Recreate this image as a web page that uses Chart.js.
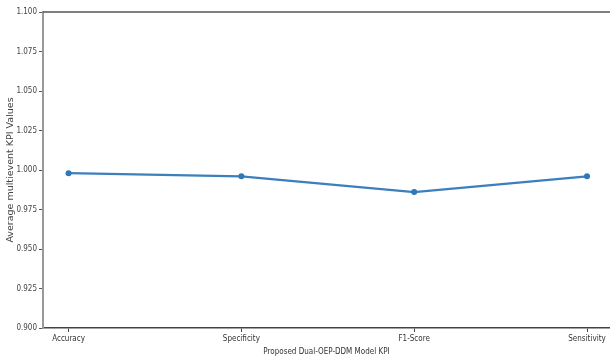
<!DOCTYPE html>
<html>
<head>
<meta charset="utf-8">
<script src="https://cdn.jsdelivr.net/npm/chart.js@4.4.0/dist/chart.umd.min.js"></script>
<style>
html,body{margin:0;padding:0;background:#fff;overflow:hidden;}
canvas{display:block;}
</style>
</head>
<body>
<canvas id="c" width="610" height="361"></canvas>
<script>
const categories = ["Accuracy", "Specificity", "F1-Score", "Sensitivity"];
const kpiValues = [0.998, 0.996, 0.986, 0.996];
const yTicks = [0.900, 0.925, 0.950, 0.975, 1.000, 1.025, 1.050, 1.075, 1.100];

const narrow = "'Liberation Sans Narrow', 'DejaVu Sans Condensed', 'Liberation Sans', sans-serif";

const spines = {
  id: 'spines',
  afterDraw(chart) {
    const {ctx, chartArea: a} = chart;
    ctx.save();
    ctx.strokeStyle = '#555';
    ctx.lineWidth = 1.6;
    ctx.beginPath();
    ctx.moveTo(a.left, a.top); ctx.lineTo(a.right, a.top);
    ctx.stroke();
    ctx.restore();
  }
};

new Chart(document.getElementById('c'), {
  type: 'line',
  data: {
    datasets: [{
      data: kpiValues.map((v, i) => ({x: i, y: v})),
      borderColor: '#3b7fbd',
      backgroundColor: '#2f77b6',
      borderWidth: 2.2,
      pointRadius: 3,
      pointBorderWidth: 0,
      pointBackgroundColor: '#2f77b6',
      tension: 0
    }]
  },
  options: {
    responsive: false,
    animation: false,
    layout: {autoPadding: false, padding: {top: 12, right: 0, bottom: 0, left: 0}},
    plugins: {legend: {display: false}, tooltip: {enabled: false}},
    scales: {
      x: {
        type: 'linear',
        min: -0.148,
        max: 3.133,
        afterBuildTicks: s => { s.ticks = categories.map((c, i) => ({value: i})); },
        afterFit: s => { s.height = 33; s.paddingRight = 0; s.paddingLeft = 0; },
        ticks: {
          callback: v => categories[v],
          color: '#333',
          font: {family: narrow, size: 8},
          padding: 2,
          maxRotation: 0,
          autoSkip: false
        },
        grid: {display: true, drawOnChartArea: false, tickLength: 4, color: '#444', tickWidth: 1},
        border: {display: true, color: '#444', width: 1.6},
        title: {
          display: true,
          text: 'Proposed Dual-OEP-DDM Model KPI',
          color: '#333',
          font: {family: narrow, size: 8},
          padding: {top: 0, bottom: 4}
        }
      },
      y: {
        min: 0.9,
        max: 1.1,
        afterBuildTicks: s => { s.ticks = yTicks.map(v => ({value: v})); },
        afterFit: s => { s.width = 43; s.paddingTop = 0; s.paddingBottom = 0; },
        ticks: {
          callback: v => v.toFixed(3),
          color: '#444',
          font: {family: narrow, size: 8},
          padding: 2
        },
        grid: {display: true, drawOnChartArea: false, tickLength: 4, color: '#555', tickWidth: 1},
        border: {display: true, color: '#999', width: 2},
        title: {
          display: true,
          text: 'Average multievent KPI Values',
          color: '#444',
          font: {family: "'DejaVu Sans', sans-serif", size: 9.5},
          padding: {top: 5, bottom: 0}
        }
      }
    }
  },
  plugins: [spines]
});
</script>
</body>
</html>
